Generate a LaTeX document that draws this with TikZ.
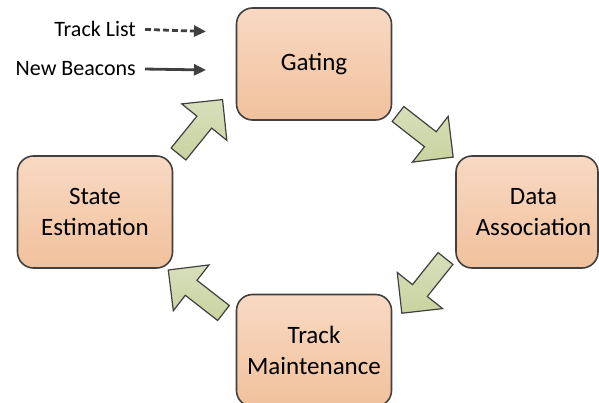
\documentclass[tikz,border=0pt]{standalone}
\usepackage{fontspec}
\setmainfont{Carlito}
\usetikzlibrary{arrows.meta,calc}
\definecolor{boxtop}{HTML}{F8D9C3}
\definecolor{boxbot}{HTML}{F1C19C}
\definecolor{arrtop}{HTML}{D7DFBB}
\definecolor{arrbot}{HTML}{C8D39F}
\definecolor{edge}{HTML}{404040}
\tikzset{
  stage/.style={draw=edge, line width=1.6pt, rounded corners=16pt,
    top color=boxtop, bottom color=boxbot,
    minimum width=155pt, minimum height=112pt, inner sep=0pt,
    align=center, font=\fontsize{25}{31}\selectfont},
  lbl/.style={align=center, font=\fontsize{25}{31}\selectfont, inner sep=0pt},
  legend/.style={font=\fontsize{22}{26}\selectfont, inner sep=0pt},
  legarrow/.style={draw=edge, line width=2.8pt, -{Triangle[length=12pt,width=11pt]}},
  pics/blockarrow/.style={code={
    \draw[draw=edge, line width=1.2pt, line join=miter, top color=arrtop, bottom color=arrbot]
      (0,9.5) -- (41,9.5) -- (41,29) -- (70,0) -- (41,-29) -- (41,-9.5) -- (0,-9.5) -- cycle;
  }}
}
\begin{document}
\begin{tikzpicture}[x=1pt,y=-1pt]
\useasboundingbox (0,0) rectangle (599,403);
\clip (0,0) rectangle (599,403);
% stages
\node[stage] (gate) at (314,64) {Gating};
\node[stage, minimum width=142pt,
  label={[lbl, xshift=6.5pt]center:Data\\Association}] (data) at (527,212) {};
\node[stage] (maint) at (314,350.5) {Track\\Maintenance};
\node[stage] (state) at (95,212) {State\\Estimation};
% block arrows between stages
\pic[rotate=51] at (178.5,154) {blockarrow};
\pic[rotate=-38] at (398,114) {blockarrow};
\pic[rotate=-128.6] at (445.5,258.5) {blockarrow};
\pic[rotate=142.1] at (223.5,313) {blockarrow};
% legend
\node[legend, anchor=base east] (tl) at (136,37) {Track List};
\node[legend, anchor=base east] (nb) at (136,76) {New Beacons};
\coordinate (tlend) at (206,31.5);
\coordinate (nbend) at (206,70);
\draw[legarrow, dash pattern=on 6pt off 3pt] ($(tl.east)+(9,0)$) -- (tlend);
\draw[legarrow] ($(nb.east)+(9,0)$) -- (nbend);
\end{tikzpicture}
\end{document}
